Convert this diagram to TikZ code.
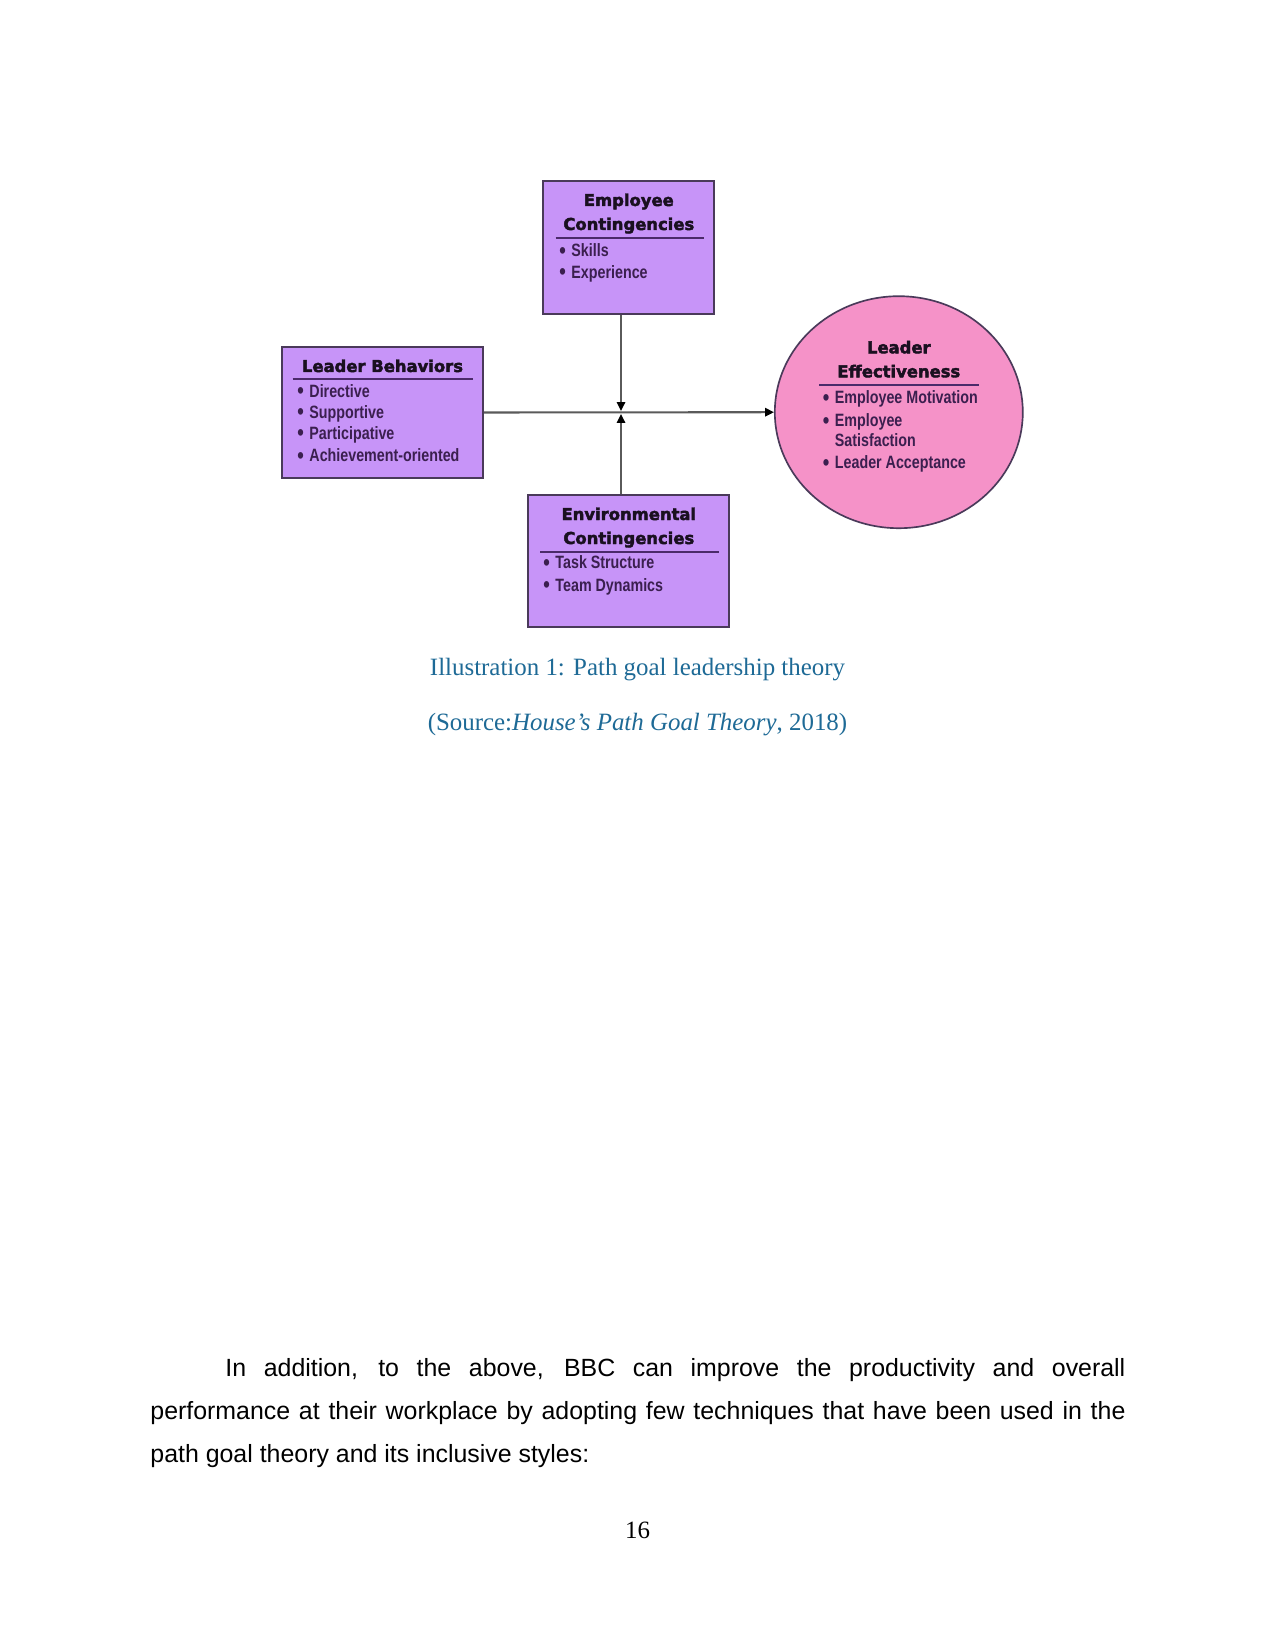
\documentclass[tikz,border=0pt]{standalone}
\usepackage{fontspec}
\usetikzlibrary{arrows.meta,shapes.geometric}
\setmainfont{Liberation Serif}
\newfontfamily\bodysans{Liberation Sans}
\newfontfamily\titlefont[UprightFont=* Bold,FakeBold=2.5]{DejaVu Sans}
\newfontfamily\itemfont[UprightFont=* Bold,FakeStretch=0.8]{Liberation Sans}
\definecolor{boxfill}{HTML}{C794F8}
\definecolor{ellfill}{HTML}{F592C8}
\definecolor{boxline}{HTML}{4A3A5A}
\definecolor{connline}{HTML}{5A5A5A}
\definecolor{ulcol}{HTML}{4B2A6A}
\definecolor{titlecol}{HTML}{1A1020}
\definecolor{itemcol}{HTML}{3B1F4F}
\definecolor{capcol}{HTML}{1E6A96}
\def\px{0.4818pt}
\newcommand\itm[1]{\makebox[5.8pt][l]{\raisebox{-0.15ex}{\scalebox{1.3}{•}}}#1}
\tikzset{
  x=0.4818pt, y=-0.4818pt,
  box/.style={draw=boxline, line width=1.1pt, fill=boxfill, rectangle, inner sep=0pt},
  ell/.style={draw=boxline, line width=0.8pt, fill=ellfill, ellipse, inner sep=0pt},
  ttl/.style={anchor=base, inner sep=0pt, text=titlecol, font=\titlefont\fontsize{7.9pt}{9pt}\selectfont},
  itm/.style={anchor=base west, inner sep=0pt, text=itemcol, font=\itemfont\fontsize{8.6pt}{10pt}\selectfont},
  ul/.style={draw=ulcol, line width=0.8pt},
  conn/.style={draw=connline, line width=1pt},
  tip/.style={-{Triangle[length=4.3pt,width=4pt,color=black]}},
  captext/.style={anchor=base, inner sep=0pt, text=capcol, font=\fontsize{12pt}{14pt}\selectfont},
  body/.style={anchor=base west, inner sep=0pt, font=\bodysans\fontsize{12pt}{14pt}\selectfont}
}
\begin{document}
\begin{tikzpicture}
\useasboundingbox[fill=white] (0,0) rectangle (1275,1650);
% boxes
\node[box, minimum width={171*\px}, minimum height={133*\px}] (emp) at (628.8,247.5) {};
\node[box, minimum width={201*\px}, minimum height={131.6*\px}] (lb) at (382.2,412.5) {};
\node[box, minimum width={201*\px}, minimum height={131.7*\px}] (env) at (628.8,560.8) {};
\node[ell, minimum width={248*\px}, minimum height={232*\px}] (le) at (898.8,412.2) {};
% connectors
\coordinate (jt) at (621,411);
\coordinate (jb) at (621,414);
\draw[conn,tip] (jt |- emp.south) -- (jt);
\draw[conn,tip] (jb |- env.north) -- (jb);
\draw[conn,tip] (lb.east) -- (le.west);
% Employee contingencies
\node[ttl] (empt1) at (628.8,206) {Employee};
\node[ttl] (empt2) at (628.8,230) {Contingencies};
\draw[ul] (555.7,238) -- (704.3,238);
\node[itm] (empi1) at (559,256.7) {\itm{Skills}};
\node[itm] (empi2) at (559,278.3) {\itm{Experience}};
% Leader behaviors
\node[ttl] (lbt) at (382.5,372) {Leader Behaviors};
\draw[ul] (292.7,379.3) -- (472.7,379.3);
\node[itm] (lbi1) at (297,397.3) {\itm{Directive}};
\node[itm] (lbi2) at (297,418.3) {\itm{Supportive}};
\node[itm] (lbi3) at (297,439.3) {\itm{Participative}};
\node[itm] (lbi4) at (297,461.7) {\itm{Achievement-oriented}};
% Environmental contingencies
\node[ttl] (envt1) at (628.8,520) {Environmental};
\node[ttl] (envt2) at (628.8,544) {Contingencies};
\draw[ul] (540,551.7) -- (719.3,551.7);
\node[itm] (envi1) at (543,568.7) {\itm{Task Structure}};
\node[itm] (envi2) at (543,591) {\itm{Team Dynamics}};
% Leader effectiveness
\node[ttl] (let1) at (898.8,353.3) {Leader};
\node[ttl] (let2) at (898.8,377.3) {Effectiveness};
\draw[ul] (819,385.3) -- (979.3,385.3);
\node[itm] (lei1) at (822.5,404) {\itm{Employee Motivation}};
\node[itm] (lei2) at (822.5,426.7) {\itm{Employee}};
\node[itm] (lei3) at (834.5,446.7) {Satisfaction};
\node[itm] (lei4) at (822.5,469) {\itm{Leader Acceptance}};
% caption
\node[captext] (cap1) at (637.5,675) {Illustration 1: Path goal leadership theory};
\node[captext] (cap2) at (637.5,730) {(Source:\textit{House’s Path Goal Theory}, 2018)};
% body text
\node[body] (b1) at (225,1376) {\makebox[433.6pt][s]{In addition, to the above, BBC can improve the productivity and overall}};
\node[body] (b2) at (150,1419) {\makebox[469.8pt][s]{performance at their workplace by adopting few techniques that have been used in the}};
\node[body] (b3) at (150,1462) {path goal theory and its inclusive styles:};
\node[anchor=base, inner sep=0pt, font=\fontsize{12pt}{14pt}\selectfont] (pg) at (637.5,1538) {16};
\end{tikzpicture}
\end{document}
